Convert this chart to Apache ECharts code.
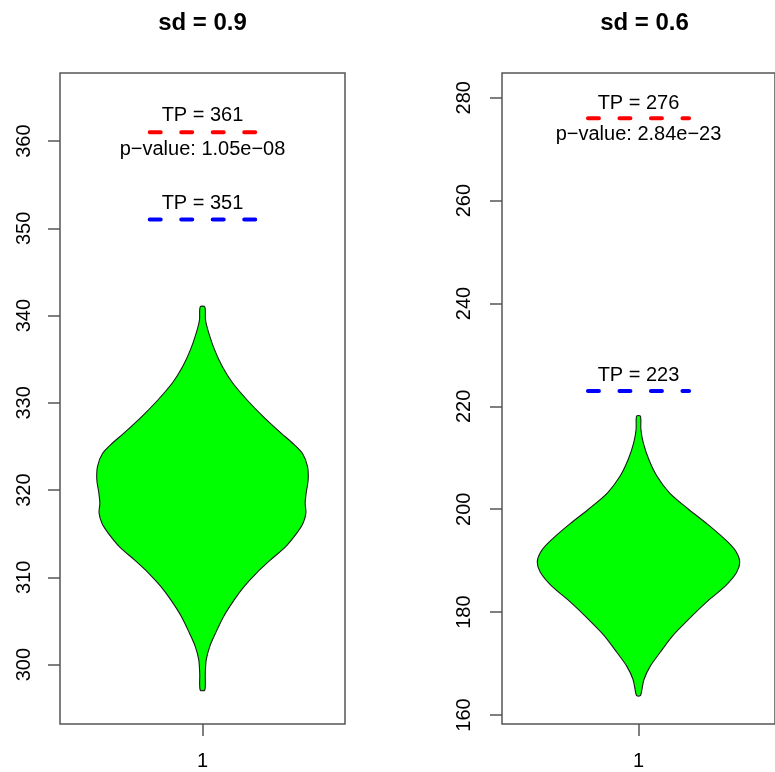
<!DOCTYPE html>
<html>
<head>
<meta charset="utf-8">
<script src="https://cdn.jsdelivr.net/npm/echarts@6/dist/echarts.min.js"></script>
<style>
html,body{margin:0;padding:0;background:#fff;}
#chart{width:775px;height:772px;}
</style>
</head>
<body>
<div id="chart"></div>
<script>
// ---- data ----
const panelTitles = ['sd = 0.9', 'sd = 0.6'];
const groupLabels = ['1'];
const leftYTicks = [300, 310, 320, 330, 340, 350, 360];
const rightYTicks = [160, 180, 200, 220, 240, 260, 280];

// violin outline: y values and half widths (x-axis units)
const leftViolinY = [297.1, 299.0, 300.6, 302.1, 303.6, 305.5, 307.4, 309.0, 310.5, 312.0, 313.5, 315.1, 316.2, 317.4, 318.5, 319.7, 321.2, 322.7, 324.2, 325.4, 326.5, 328.4, 330.3, 332.3, 334.2, 336.1, 338.0, 339.5, 341.0];
const leftViolinHalfWidth = [0.0087, 0.0105, 0.0144, 0.0277, 0.0493, 0.0796, 0.1194, 0.159, 0.2046, 0.2577, 0.3145, 0.358, 0.381, 0.392, 0.389, 0.393, 0.4005, 0.398, 0.379, 0.341, 0.299, 0.231, 0.170, 0.1137, 0.0746, 0.0455, 0.0239, 0.0114, 0.0087];
const rightViolinY = [163.8, 164.4, 166.9, 169.5, 172.1, 175.4, 178.6, 181.9, 185.1, 187.7, 189.7, 191.6, 193.5, 196.8, 200.0, 203.2, 206.5, 209.7, 212.9, 215.5, 218.1];
const rightViolinHalfWidth = [0.0076, 0.0114, 0.0216, 0.0466, 0.0845, 0.135, 0.198, 0.268, 0.344, 0.388, 0.4005, 0.388, 0.356, 0.280, 0.198, 0.1224, 0.072, 0.0405, 0.019, 0.0095, 0.0076];

const tpRed = [361, 276];
const tpBlue = [351, 223];
const pValues = ['1.05e\u221208', '2.84e\u221223'];
const segmentX = [0.8, 1.2];

// ---- styles ----
const FONT = '"Liberation Sans", Arial, Helvetica, sans-serif';
const AXIS_COLOR = '#555';
const yRanges = [[293.2, 367.8], [158.25, 284.8]];
const yTicks = [leftYTicks, rightYTicks];
const yLabelMargins = [26, 28];
const textOffsets = [16.6, 15.2];
const gridLefts = [60, 502];

const chart = echarts.init(document.getElementById('chart'), null, {renderer: 'canvas'});

function violinSeries(gi, ys, ws) {
  return {
    type: 'custom', xAxisIndex: gi, yAxisIndex: gi, silent: true,
    data: [[1, ys[0]]],
    renderItem: function (params, api) {
      const pts = [];
      for (let i = 0; i < ys.length; i++) pts.push(api.coord([1 - ws[i], ys[i]]));
      for (let i = ys.length - 1; i >= 0; i--) pts.push(api.coord([1 + ws[i], ys[i]]));
      return {
        type: 'polygon',
        shape: {points: pts, smooth: 0.3},
        style: {fill: '#00ff00', stroke: '#1a1a1a', lineWidth: 1.1}
      };
    }
  };
}

function dashSeries(gi, y, color) {
  return {
    type: 'line', xAxisIndex: gi, yAxisIndex: gi, silent: true,
    data: [[segmentX[0], y], [segmentX[1], y]],
    symbol: 'none',
    lineStyle: {color: color, width: 4, type: [11, 20.5], cap: 'round'},
    z: 5
  };
}

function textSeries(gi, y, text, dy) {
  return {
    type: 'custom', xAxisIndex: gi, yAxisIndex: gi, silent: true,
    data: [[1, y]],
    renderItem: function (params, api) {
      const c = api.coord([api.value(0), api.value(1)]);
      return {
        type: 'text', x: c[0], y: c[1] + dy,
        style: {text: text, fill: '#000', font: '20px ' + FONT, align: 'center', verticalAlign: 'middle'}
      };
    },
    z: 6
  };
}

const grids = [], xAxes = [], yAxes = [], titles = [], series = [];
for (let g = 0; g < 2; g++) {
  grids.push({left: gridLefts[g], top: 73, width: 285, height: 651, show: true,
    borderColor: AXIS_COLOR, borderWidth: 1.5, backgroundColor: 'transparent', containLabel: false});
  xAxes.push({
    type: 'value', gridIndex: g, min: 0.46, max: 1.54,
    axisLine: {show: false}, splitLine: {show: false},
    axisTick: {show: true, length: 12, customValues: [1], lineStyle: {color: AXIS_COLOR, width: 1.5}},
    axisLabel: {show: true, customValues: [1], margin: 27, fontSize: 20, color: '#000', fontFamily: FONT,
      formatter: function (v) { return groupLabels[Math.round(v) - 1]; }}
  });
  yAxes.push({
    type: 'value', gridIndex: g, min: yRanges[g][0], max: yRanges[g][1],
    axisLine: {show: false}, splitLine: {show: false},
    axisTick: {show: true, length: 12, customValues: yTicks[g], lineStyle: {color: AXIS_COLOR, width: 1.5}},
    axisLabel: {show: true, customValues: yTicks[g], rotate: 90, margin: yLabelMargins[g], fontSize: 20,
      color: '#000', fontFamily: FONT, showMinLabel: true, showMaxLabel: true, hideOverlap: false}
  });
  titles.push({text: panelTitles[g], left: gridLefts[g] + 142.5, top: 11, textAlign: 'center', padding: 0,
    textStyle: {fontSize: 24, fontWeight: 'bold', color: '#000', fontFamily: FONT}});
}

series.push(violinSeries(0, leftViolinY, leftViolinHalfWidth));
series.push(violinSeries(1, rightViolinY, rightViolinHalfWidth));
for (let g = 0; g < 2; g++) {
  series.push(dashSeries(g, tpRed[g], '#ff0000'));
  series.push(dashSeries(g, tpBlue[g], '#0000ff'));
  series.push(textSeries(g, tpRed[g], 'TP = ' + tpRed[g], -textOffsets[g]));
  series.push(textSeries(g, tpRed[g], 'p\u2212value: ' + pValues[g], textOffsets[g] + 0.6));
  series.push(textSeries(g, tpBlue[g], 'TP = ' + tpBlue[g], -textOffsets[g]));
}

chart.setOption({
  animation: false,
  backgroundColor: '#fff',
  title: titles,
  grid: grids,
  xAxis: xAxes,
  yAxis: yAxes,
  series: series
});
</script>
</body>
</html>
